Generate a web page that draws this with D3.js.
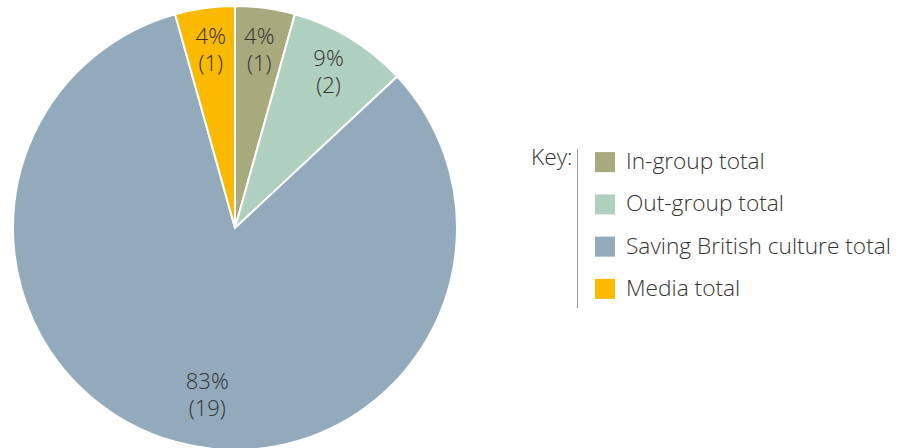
<!DOCTYPE html>
<html lang="en">
<head>
<meta charset="UTF-8">
<title>Pie chart</title>
<style>
    body { margin: 0; padding: 0; background: #fff; }
    svg { display: block; font-family: "Open Sans", sans-serif; font-weight: 300; }
    .label { fill: #333; font-size: 22px; }
    .legend text { fill: #333; font-size: 22.7px; }
</style>
</head>
<body>
<div id="chart"></div>
<script src="https://cdn.jsdelivr.net/npm/d3@7"></script>
<script>
    // data
    const categories = ['In-group total', 'Out-group total', 'Saving British culture total', 'Media total']
    const counts = [1, 2, 19, 1]
    const percents = ['4%', '9%', '83%', '4%']
    const colors = ['#a8a97c', '#afcfbf', '#93aabc', '#fbb900']

    const w = 905
    const h = 448
    const cx = 235
    const cy = 228
    const r = 222
    // label placement: radius and small angular nudge (radians) per slice
    const labelR = [178, 180, 171, 178]
    const labelNudge = [0, 0, 0.11, 0]

    const svg = d3.select('#chart')
        .append('svg')
        .attr('width', w)
        .attr('height', h)

    const pie = d3.pie().sort(null).value(d => d)
    const arcs = pie(counts)

    const arc = d3.arc().innerRadius(0).outerRadius(r)

    const g = svg.append('g')
        .attr('transform', `translate(${cx},${cy})`)

    g.selectAll('path')
        .data(arcs)
        .enter()
        .append('path')
        .attr('d', arc)
        .attr('fill', (d, i) => colors[i])
        .attr('stroke', '#fff')
        .attr('stroke-width', 2)

    const labels = g.selectAll('text.label')
        .data(arcs)
        .enter()
        .append('text')
        .attr('class', 'label')
        .attr('text-anchor', 'middle')
        .attr('transform', (d, i) => {
            const a = (d.startAngle + d.endAngle) / 2 - labelNudge[i]
            return `translate(${labelR[i] * Math.sin(a)},${-labelR[i] * Math.cos(a)})`
        })

    labels.append('tspan')
        .attr('x', 0)
        .attr('y', -8)
        .text((d, i) => percents[i])
    labels.append('tspan')
        .attr('x', 0)
        .attr('y', 19)
        .text((d, i) => `(${counts[i]})`)

    // legend
    const legend = svg.append('g').attr('class', 'legend')

    legend.append('text')
        .attr('x', 531)
        .attr('y', 165)
        .text('Key:')

    legend.append('line')
        .attr('x1', 577.5).attr('x2', 577.5)
        .attr('y1', 149).attr('y2', 308)
        .attr('stroke', '#9a9a9a')
        .attr('stroke-width', 1)

    const ly = d3.scaleBand()
        .domain(categories)
        .range([141, 310])

    const items = legend.selectAll('g.item')
        .data(categories)
        .enter()
        .append('g')
        .attr('class', 'item')
        .attr('transform', d => `translate(595,${ly(d) + ly.bandwidth() / 2})`)

    items.append('rect')
        .attr('x', 0)
        .attr('y', -10)
        .attr('width', 20)
        .attr('height', 20)
        .attr('fill', (d, i) => colors[i])

    items.append('text')
        .attr('x', 31)
        .attr('y', 7)
        .text(d => d)
</script>
</body>
</html>
